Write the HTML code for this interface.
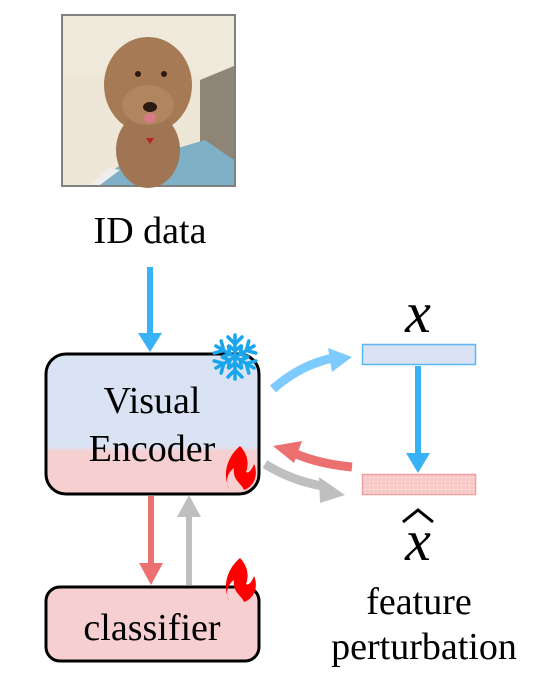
<!DOCTYPE html>
<html><head><meta charset="utf-8"><style>
html,body{margin:0;padding:0;background:#fff;}
svg{display:block;}
text{font-family:"Liberation Serif",serif;fill:#000;}
</style></head><body>
<svg width="535" height="680" viewBox="0 0 535 680" xmlns="http://www.w3.org/2000/svg">
<defs>
<linearGradient id="enc" x1="0" y1="0" x2="0" y2="1">
<stop offset="0" stop-color="#dae3f3"/><stop offset="0.66" stop-color="#dae3f3"/><stop offset="0.70" stop-color="#f6cfd1"/><stop offset="1" stop-color="#f6cfd1"/>
</linearGradient>
<pattern id="dots" width="4" height="4" patternUnits="userSpaceOnUse"><rect width="4" height="4" fill="#f7caca"/><rect x="1" y="1" width="1" height="1" fill="#fff"/></pattern>
<g id="flame"><path d="M0 0 C -14 12 -18 30 -10 44 C -16 36 -12 26 -6 22 C -8 34 2 38 4 44 C 16 40 18 26 14 18 C 12 24 8 28 6 26 C 10 16 6 6 0 0 Z" fill="#ff0000"/></g>
<g id="flake" stroke="#1aa6ec" stroke-width="3.5" stroke-linecap="round" fill="none">
<g id="arm"><line x1="0" y1="0" x2="0" y2="-22"/><polyline points="-7,-20 0,-13 7,-20"/><polyline points="-6,-11 0,-6 6,-11"/></g>
<use href="#arm" transform="rotate(60)"/><use href="#arm" transform="rotate(120)"/><use href="#arm" transform="rotate(180)"/><use href="#arm" transform="rotate(240)"/><use href="#arm" transform="rotate(300)"/>
</g>
</defs>

<!-- photo -->
<rect x="62" y="15" width="173" height="171" fill="#eee6d6" stroke="#808080" stroke-width="2"/>
<rect x="63" y="16" width="171" height="60" fill="#efe9dc"/>
<polygon points="200,80 234,66 234,160 200,150" fill="#8e8577"/>
<polygon points="95,185 120,165 205,140 234,160 234,185" fill="#7eb0c8"/>
<polygon points="90,185 110,168 120,170 100,185" fill="#eee"/>
<ellipse cx="148" cy="85" rx="44" ry="48" fill="#a57a55"/>
<ellipse cx="148" cy="150" rx="32" ry="38" fill="#a07554"/>
<ellipse cx="148" cy="105" rx="26" ry="20" fill="#b08560"/>
<circle cx="138" cy="74" r="3" fill="#2a1a10"/><circle cx="164" cy="74" r="3" fill="#2a1a10"/>
<ellipse cx="150" cy="107" rx="7" ry="5" fill="#2a1a10"/>
<ellipse cx="150" cy="118" rx="6" ry="5" fill="#d87a88"/>
<path d="M146 138 l4 6 l4 -6 z" fill="#c02020"/>

<text x="150" y="243" font-size="38" text-anchor="middle">ID data</text>

<!-- ID arrow -->
<line x1="150" y1="267" x2="150" y2="334" stroke="#39b2f5" stroke-width="6"/>
<polygon points="138,333 162,333 150,352" fill="#39b2f5"/>

<!-- encoder -->
<rect x="46" y="354" width="213" height="140" rx="20" fill="url(#enc)" stroke="#000" stroke-width="3"/>
<text x="152" y="413" font-size="38" text-anchor="middle">Visual</text>
<text x="152" y="461" font-size="38" text-anchor="middle">Encoder</text>
<use href="#flake" transform="translate(235,357)"/>
<use href="#flame" transform="translate(240,446)"/>

<!-- down/up arrows -->
<line x1="151" y1="496" x2="151" y2="565" stroke="#ec7070" stroke-width="6"/>
<polygon points="139,563 163,563 151,585" fill="#ec7070"/>
<line x1="189" y1="585" x2="189" y2="515" stroke="#bfbfbf" stroke-width="6"/>
<polygon points="177,517 201,517 189,495" fill="#bfbfbf"/>

<!-- classifier -->
<rect x="46" y="587" width="213" height="74" rx="14" fill="#f6cfd1" stroke="#000" stroke-width="3"/>
<text x="152" y="640" font-size="38" text-anchor="middle">classifier</text>
<use href="#flame" transform="translate(240,558)"/>

<!-- curved arrows -->
<path d="M273 389 Q 300 365 333 358" stroke="#7dcaff" stroke-width="9" fill="none"/>
<polygon points="328,348 352,357 332,372" fill="#7dcaff"/>
<path d="M352 467 Q 320 464 296 454" stroke="#ec7070" stroke-width="9" fill="none"/>
<polygon points="302,441 273,446 294,463" fill="#ec7070"/>
<path d="M265 464 Q 290 480 322 486" stroke="#bfbfbf" stroke-width="9" fill="none"/>
<polygon points="319,477 345,495 320,503" fill="#bfbfbf"/>

<!-- feature bars -->
<rect x="362.5" y="344.5" width="113" height="20" fill="#dae3f3" stroke="#5bb8f5" stroke-width="1.5"/>
<line x1="418" y1="366" x2="418" y2="455" stroke="#39b2f5" stroke-width="6"/>
<polygon points="406,453 430,453 418,473" fill="#39b2f5"/>
<rect x="362.5" y="474.5" width="113" height="20" fill="url(#dots)" stroke="#f0a0a0" stroke-width="1.5"/>

<text x="418" y="332" font-size="58" font-style="italic" text-anchor="middle">x</text>
<text x="418" y="560" font-size="58" font-style="italic" text-anchor="middle">x</text>
<path d="M403 522 L418 510 L433 522" stroke="#000" stroke-width="3" fill="none"/>
<text x="419" y="614" font-size="38" text-anchor="middle">feature</text>
<text x="424" y="659" font-size="38" text-anchor="middle">perturbation</text>
</svg>
</body></html>
